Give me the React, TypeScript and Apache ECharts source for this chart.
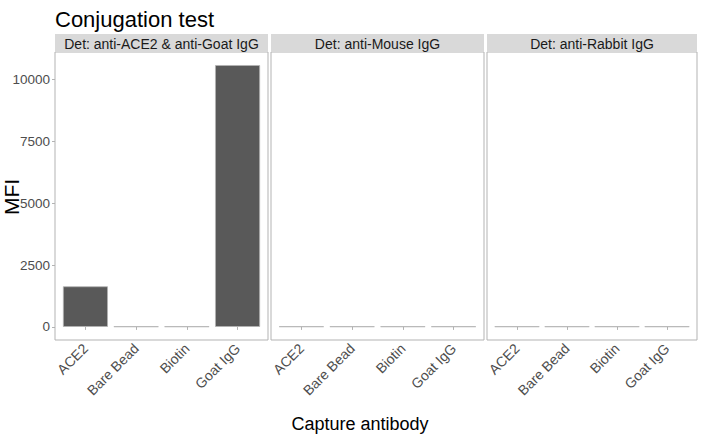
import React, { useEffect, useRef } from "react";
import * as echarts from "echarts";

const categories = ["ACE2", "Bare Bead", "Biotin", "Goat IgG"];
const panelTitles = [
  "Det: anti-ACE2 & anti-Goat IgG",
  "Det: anti-Mouse IgG",
  "Det: anti-Rabbit IgG",
];
const panel1Values = [1640, 20, 20, 10580];
const panel2Values = [20, 20, 20, 20];
const panel3Values = [20, 20, 20, 20];
const yTicks = [0, 2500, 5000, 7500, 10000];

const FONT = "'Liberation Sans', Arial, Helvetica, sans-serif";

export default function App() {
  const ref = useRef<HTMLDivElement>(null);
  useEffect(() => {
    if (!ref.current) return;
    const chart = echarts.init(ref.current, null, { renderer: "svg" });
    const allValues = [panel1Values, panel2Values, panel3Values];
    const lefts = [55, 271, 487];
    const widths = [213, 213, 210];
    const top = 52;
    const height = 288;
    const dataMax = Math.max(...allValues.flat());
    const yMin = -0.05 * dataMax;
    const yMax = dataMax * 1.05;

    const grids = lefts.map((l, i) => ({
      left: l,
      top,
      width: widths[i],
      height,
      show: true,
      borderColor: "#b3b3b3",
      borderWidth: 1,
      backgroundColor: "#ffffff",
      containLabel: false,
    }));
    const catIdx = categories.map((_, i) => i + 1);
    const xAxes = lefts.map((_, i) => ({
      type: "value",
      gridIndex: i,
      min: 0.4,
      max: 4.6,
      splitLine: { show: false },
      axisLine: { show: false },
      axisTick: {
        show: true,
        customValues: catIdx,
        length: 3,
        lineStyle: { color: "#b3b3b3" },
      },
      axisLabel: {
        customValues: catIdx,
        formatter: (v: number) => categories[Math.round(v) - 1] ?? "",
        rotate: 45,
        color: "#4d4d4d",
        fontSize: 14,
        fontFamily: FONT,
        margin: 6,
      },
    }));
    const yAxes = lefts.map((_, i) => ({
      type: "value",
      gridIndex: i,
      min: yMin,
      max: yMax,
      splitLine: { show: false },
      axisLine: { show: false },
      axisTick: {
        show: i === 0,
        customValues: yTicks,
        length: 3,
        lineStyle: { color: "#b3b3b3" },
      },
      axisLabel: {
        show: i === 0,
        customValues: yTicks,
        formatter: (v: number) => String(v),
        color: "#4d4d4d",
        fontSize: 13.5,
        fontFamily: FONT,
        margin: 5,
      },
    }));
    const series = allValues.map((vals, i) => ({
      type: "bar",
      xAxisIndex: i,
      yAxisIndex: i,
      barWidth: 45,
      data: vals.map((v, j) => [j + 1, v]),
      itemStyle: {
        color: "#595959",
        borderColor: "#b3b3b3",
        borderWidth: 0.8,
      },
    }));
    const graphics: any[] = [];
    lefts.forEach((l, i) => {
      graphics.push({
        type: "rect",
        shape: { x: l, y: 34, width: widths[i], height: 18 },
        style: { fill: "#d9d9d9", stroke: "#d9d9d9", lineWidth: 0 },
        silent: true,
      });
      graphics.push({
        type: "text",
        x: l + widths[i] / 2,
        y: 43.5,
        style: {
          text: panelTitles[i],
          fontSize: 14,
          fontFamily: FONT,
          fill: "#1a1a1a",
          textAlign: "center",
          textVerticalAlign: "middle",
        },
        silent: true,
      });
    });
    graphics.push({
      type: "text",
      x: 55,
      y: 19,
      style: {
        text: "Conjugation test",
        fontSize: 22,
        fontFamily: FONT,
        fill: "#000000",
        textAlign: "left",
        textVerticalAlign: "middle",
      },
    });
    graphics.push({
      type: "text",
      x: 11,
      y: 197,
      rotation: Math.PI / 2,
      style: {
        text: "MFI",
        fontSize: 21,
        fontFamily: FONT,
        fill: "#000000",
        textAlign: "center",
        textVerticalAlign: "middle",
      },
    });
    graphics.push({
      type: "text",
      x: 360,
      y: 424,
      style: {
        text: "Capture antibody",
        fontSize: 18,
        fontFamily: FONT,
        fill: "#000000",
        textAlign: "center",
        textVerticalAlign: "middle",
      },
    });

    chart.setOption({
      animation: false,
      backgroundColor: "#ffffff",
      grid: grids,
      xAxis: xAxes,
      yAxis: yAxes,
      series,
      graphic: graphics,
    } as any);
    return () => chart.dispose();
  }, []);
  return (
    <div
      ref={ref}
      style={{ position: "fixed", left: 0, top: 0, width: 701, height: 444 }}
    />
  );
}
